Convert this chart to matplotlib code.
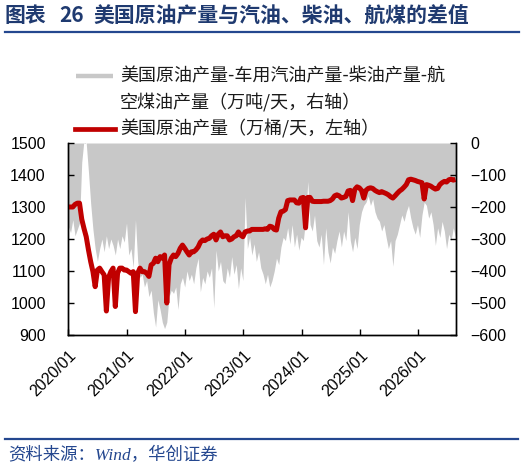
import numpy as np
import pandas as pd
import matplotlib.pyplot as plt
import matplotlib.dates as mdates
from matplotlib.lines import Line2D

plt.rcParams['font.family'] = ['Liberation Sans', 'Noto Sans CJK SC', 'DejaVu Sans']
plt.rcParams['axes.unicode_minus'] = True

# bi-weekly observations, 2020/01 -> 2026/08
dates = pd.date_range('2020-01-03', periods=174, freq='14D')

# US crude production minus gasoline, diesel and jet fuel (10k t/day, right axis)
gap = [
    # 2020
    -260, -280, -240, -290, -270, -250, -60, 10, 0, -90, -190, -270, -330,
    -370, -330, -300, -340, -290, -330, -300, -320, -350, -300, -330, -290, -310,
    # 2021
    -250, -350, -330, -390, -240, -370, -420, -410, -450, -430, -480, -460, -530,
    -575, -490, -520, -560, -580, -560, -480, -460, -470, -450, -520, -440, -420,
    # 2022
    -450, -400, -430, -410, -440, -390, -360, -465, -420, -440, -400, -420, -390,
    -515, -335, -400, -370, -430, -440, -390, -420, -355, -410, -380, -455, -390,
    # 2023
    -430, -170, -330, -295, -350, -315, -370, -340, -390, -410, -440, -410, -450,
    -430, -400, -360, -380, -325, -295, -305, -265, -315, -255, -325, -285, -335,
    # 2024
    -295, -305, -240, -120, -255, -275, -225, -305, -325, -285, -380, -265, -340,
    -375, -325, -345, -305, -275, -325, -275, -305, -215, -305, -340, -295, -330,
    # 2025
    -255, -215, -195, -185, -165, -195, -175, -215, -235, -245, -275, -255, -295,
    -330, -305, -385, -305, -285, -255, -225, -245, -215, -195, -235, -265, -285,
    # 2026
    -255, -295, -225, -185, -195, -235, -215, -255, -320, -265, -295, -245, -275,
    -330, -285, -305, -265, -295,
]

# US crude oil production (10k bbl/day, left axis)
crude = [
    # 2020
    1300, 1300, 1300, 1308, 1312, 1312, 1262, 1233, 1207, 1166, 1129, 1098, 1051,
    1103, 1109, 1098, 1088, 975, 1080, 1098, 1109, 989, 1093, 1109, 1109, 1103,
    # 2021
    1103, 1098, 1093, 1098, 973, 1093, 1109, 1098, 1098, 1093, 1083, 1119, 1124,
    1140, 1129, 1145, 1140, 1150, 1000, 1120, 1140, 1150, 1145, 1155, 1171, 1181,
    # 2022
    1171, 1160, 1150, 1160, 1160, 1166, 1175, 1190, 1197, 1195, 1200, 1202, 1210,
    1215, 1197, 1215, 1222, 1207, 1210, 1210, 1197, 1200, 1207, 1210, 1222, 1212,
    # 2023
    1207, 1222, 1225, 1225, 1230, 1230, 1230, 1230, 1230, 1230, 1232, 1230, 1240,
    1238, 1230, 1228, 1265, 1285, 1287, 1292, 1320, 1322, 1322, 1322, 1313, 1312,
    # 2024
    1328, 1330, 1235, 1330, 1330, 1318, 1317, 1317, 1317, 1317, 1318, 1318, 1318,
    1320, 1325, 1335, 1338, 1335, 1328, 1330, 1333, 1350, 1352, 1320, 1355, 1363,
    # 2025
    1360, 1352, 1328, 1352, 1358, 1360, 1358, 1352, 1348, 1345, 1348, 1345, 1342,
    1338, 1332, 1328, 1335, 1343, 1350, 1355, 1362, 1370, 1385, 1387, 1385, 1383,
    # 2026
    1380, 1378, 1376, 1325, 1370, 1368, 1365, 1360, 1356, 1358, 1370, 1376, 1380,
    1378, 1385, 1387, 1384, 1386,
]

W, H = 524, 471
def fx(x):
    return x / W
def fy(y):
    return 1 - y / H

navy = '#24478F'
cjk = ['Noto Sans CJK SC']
fig = plt.figure(figsize=(W / 100, H / 100), dpi=100)

# title + rule
fig.text(fx(5), fy(16), '图表', fontsize=15, fontweight='bold', color='#1F3A70',
         va='center', ha='left', family=cjk)
fig.text(fx(59), fy(16), '26', fontsize=15, fontweight='bold', color='#1F3A70',
         va='center', ha='left', family=cjk)
fig.text(fx(93), fy(16), '美国原油产量与汽油、柴油、航煤的差值', fontsize=15, fontweight='bold',
         color='#1F3A70', va='center', ha='left', family=cjk)
fig.add_artist(Line2D([fx(5), fx(519)], [fy(32), fy(32)], color=navy, lw=1.6))

# main axes
ax = fig.add_axes([fx(68), fy(335), fx(456) - fx(68), fy(143) - fy(335)])
ax2 = ax.twinx()

ax2.fill_between(dates, gap, 0, color='#C8C8C8', lw=0)
ax2.set_ylim(-600, 0)
ax2.set_yticks(np.arange(-600, 1, 100))

ax.plot(dates, crude, color='#C00000', lw=3.6, solid_capstyle='butt')
ax.set_ylim(900, 1500)
ax.set_yticks(np.arange(900, 1501, 100))
ax.set_zorder(ax2.get_zorder() + 1)
ax.patch.set_visible(False)

ax.set_xlim(pd.Timestamp('2020-01-01'), pd.Timestamp('2026-08-24'))
ax.xaxis.set_major_locator(mdates.YearLocator())
ax.xaxis.set_major_formatter(mdates.DateFormatter('%Y/%m'))

for a in (ax, ax2):
    a.spines['top'].set_visible(False)
    for s in a.spines.values():
        s.set_linewidth(1.0)
    a.tick_params(direction='in', length=4, width=1, labelsize=11.5, colors='black')
ax.tick_params(axis='y', pad=16)
ax2.tick_params(axis='y', pad=10)
ax.tick_params(axis='x', pad=9)
plt.setp(ax.get_xticklabels(), rotation=45, ha='right', rotation_mode='anchor')

# legend drawn by hand
fig.add_artist(Line2D([fx(76), fx(113)], [fy(76), fy(76)], color='#C8C8C8', lw=3.2,
                      solid_capstyle='butt'))
fig.text(fx(120), fy(76), '美国原油产量-车用汽油产量-柴油产量-航', fontsize=13,
         va='center', ha='left', color='#1a1a1a', family=cjk)
fig.text(fx(120), fy(102), '空煤油产量（万吨/天，右轴）', fontsize=13,
         va='center', ha='left', color='#1a1a1a', family=cjk)
fig.add_artist(Line2D([fx(75), fx(115)], [fy(129), fy(129)], color='#C00000', lw=3.4))
fig.text(fx(120), fy(129), '美国原油产量（万桶/天，左轴）', fontsize=13,
         va='center', ha='left', color='#1a1a1a', family=cjk)

# source
fig.add_artist(Line2D([fx(5), fx(518)], [fy(439), fy(439)], color=navy, lw=1.6))
fig.text(fx(8), fy(456), '资料来源：Wind，华创证券', fontsize=12.5, style='italic',
         color=navy, va='center', ha='left',
         family=['Liberation Serif', 'Noto Sans CJK SC'])

fig.savefig('out.png', dpi=100)
